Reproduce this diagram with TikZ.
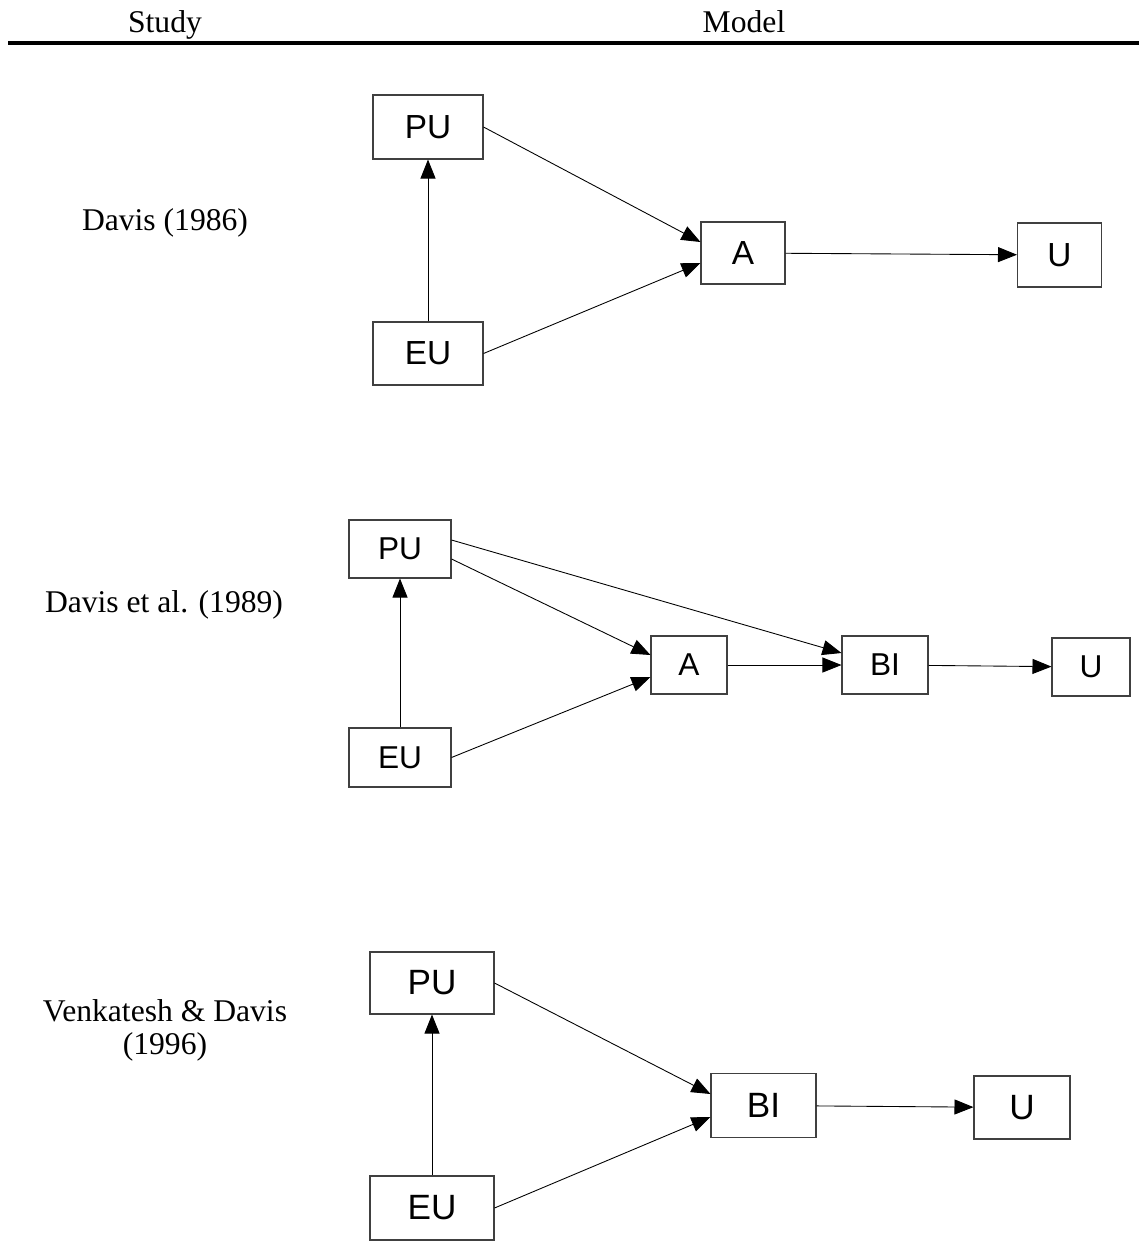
\documentclass[tikz,border=0pt]{standalone}
\usepackage{fontspec}
\setmainfont{Liberation Serif}
\newfontfamily\boxfont{Liberation Sans}
\usetikzlibrary{arrows.meta, positioning}

\begin{document}
\begin{tikzpicture}[x=0.02cm, y=-0.02cm,
  var/.style={draw=black!75, line width=0.6pt, inner sep=0pt, font=\boxfont\fontsize{19}{22}\selectfont},
  link/.style={-{Triangle[length=3.8mm, width=3mm]}, line width=0.5pt},
  study/.style={align=center, font=\fontsize{18}{18.8}\selectfont}]
  \useasboundingbox (0,0) rectangle (1139,1241);

  % Header
  \node[study, anchor=base] (studyhead) at (165,32) {Study};
  \node[study, anchor=base] (modelhead) at (744,32) {Model};
  \draw[line width=2pt] (8,43) -- (1139,43);

  % Davis (1986)
  \node[study] (davis86) at (165,223) {Davis (1986)};
  \node[var, minimum width=2.2cm, minimum height=1.28cm] (pu1) at (428,127) {PU};
  \node[var, minimum width=2.2cm, minimum height=1.26cm] (eu1) at (428,353.5) {EU};
  \node[var, minimum width=1.68cm, minimum height=1.24cm] (a1) at (743,253) {A};
  \node[var, minimum width=1.68cm, minimum height=1.28cm] (u1) at (1059.5,255) {U};
  \draw[link] (eu1) -- (pu1);
  \draw[link] (pu1.east) -- ([yshift=2.2mm]a1.west);
  \draw[link] (eu1.east) -- ([yshift=-2mm]a1.west);
  \draw[link] (a1) -- (u1);

  % Davis et al. (1989)
  \tikzset{var2/.style={var, font=\boxfont\fontsize{18}{21}\selectfont, minimum height=1.16cm}}
  \node[study] (davis89) at (164,605) {Davis et al. (1989)};
  \node[var2, minimum width=2.04cm] (pu2) at (400,549) {PU};
  \node[var2, minimum width=2.04cm, minimum height=1.18cm] (eu2) at (400,757.5) {EU};
  \node[var2, minimum width=1.52cm] (a2) at (689,665) {A};
  \node[var2, minimum width=1.72cm] (bi2) at (885,665) {BI};
  \node[var2, minimum width=1.56cm] (u2) at (1091,667) {U};
  \draw[link] (eu2) -- (pu2);
  \draw[link] ([yshift=1.8mm]pu2.east) -- ([yshift=2.4mm]bi2.west);
  \draw[link] ([yshift=-2mm]pu2.east) -- ([yshift=2mm]a2.west);
  \draw[link] (eu2.east) -- ([yshift=-2.4mm]a2.west);
  \draw[link] (a2) -- (bi2);
  \draw[link] (bi2) -- (u2);

  % Venkatesh & Davis (1996)
  \tikzset{var3/.style={var, font=\boxfont\fontsize{20}{23}\selectfont}}
  \node[study] (venk96) at (165,1030) {Venkatesh \& Davis\\(1996)};
  \node[var3, minimum width=2.48cm, minimum height=1.24cm] (pu3) at (432,983) {PU};
  \node[var3, minimum width=2.48cm, minimum height=1.28cm] (eu3) at (432,1208) {EU};
  \node[var3, minimum width=2.1cm, minimum height=1.28cm] (bi3) at (763.5,1105.5) {BI};
  \node[var3, minimum width=1.92cm, minimum height=1.26cm] (u3) at (1022,1107.5) {U};
  \draw[link] (eu3) -- (pu3);
  \draw[link] (pu3.east) -- ([yshift=2.3mm]bi3.west);
  \draw[link] (eu3.east) -- ([yshift=-2.3mm]bi3.west);
  \draw[link] (bi3) -- (u3);
\end{tikzpicture}
\end{document}
